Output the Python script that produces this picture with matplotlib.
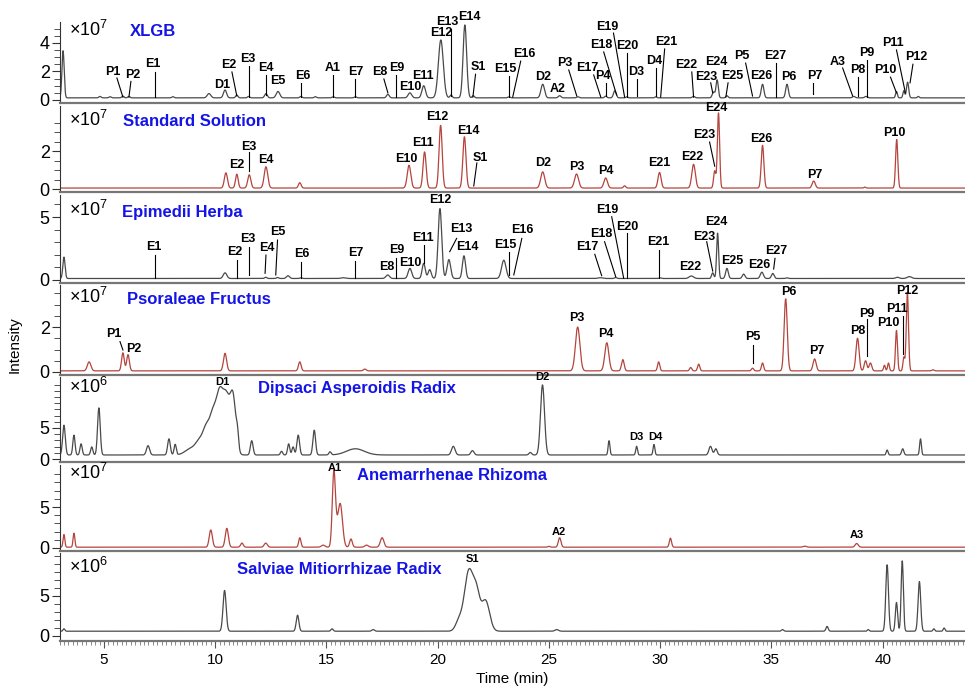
import numpy as np
import matplotlib.pyplot as plt
from matplotlib.ticker import MultipleLocator

plt.rcParams['font.family'] = ['Liberation Sans', 'DejaVu Sans']
plt.rcParams['mathtext.fontset'] = 'custom'
plt.rcParams['mathtext.rm'] = 'Liberation Sans'

# ---------------------------------------------------------------------------
# Peak tables: retention time (min), height, width
# ---------------------------------------------------------------------------
xlgb_rt = [3.16, 4.82, 5.27, 5.85, 6.12, 8.1, 9.72, 10.44, 10.97, 11.5, 12.28, 12.82,
           13.85, 14.5, 15.3, 16.3, 17.76, 18.75, 19.37, 20.14, 20.6, 21.22, 21.6,
           23.2, 24.72, 25.48, 26.3, 27.55, 27.96, 28.5, 29.8, 31.5, 32.4, 32.56,
           33.0, 34.6, 35.7, 38.7, 39.25, 40.62, 40.95, 41.12, 41.6]
xlgb_h = [3.3, 0.1, 0.08, 0.12, 0.1, 0.08, 0.3, 0.55, 0.2, 0.1, 0.3, 0.45,
          0.1, 0.08, 0.08, 0.08, 0.25, 0.35, 0.85, 4.05, 0.2, 5.1, 0.15,
          0.08, 0.95, 0.15, 0.08, 0.12, 0.5, 0.08, 0.08, 0.1, 0.4, 1.25,
          0.15, 0.95, 0.95, 0.1, 0.1, 0.45, 0.5, 1.1, 0.1]
xlgb_w = [0.05, 0.05, 0.05, 0.05, 0.05, 0.05, 0.08, 0.07, 0.05, 0.05, 0.06, 0.08,
          0.05, 0.05, 0.05, 0.05, 0.06, 0.08, 0.08, 0.11, 0.05, 0.08, 0.05,
          0.05, 0.08, 0.06, 0.05, 0.05, 0.06, 0.04, 0.04, 0.06, 0.06, 0.05,
          0.05, 0.06, 0.06, 0.06, 0.06, 0.04, 0.04, 0.05, 0.04]

std_rt = [10.48, 10.97, 11.53, 12.28, 13.8, 18.71, 19.41, 20.13, 21.2, 24.72, 26.24,
          27.55, 28.4, 29.97, 31.5, 32.45, 32.62, 34.6, 36.9, 39.2, 40.63]
std_h = [0.8, 0.73, 0.7, 1.12, 0.28, 1.2, 1.9, 3.3, 2.7, 0.85, 0.74,
         0.53, 0.12, 0.82, 1.25, 0.9, 3.95, 2.25, 0.37, 0.05, 2.55]
std_w = [0.07, 0.06, 0.07, 0.08, 0.06, 0.08, 0.07, 0.07, 0.07, 0.09, 0.09,
         0.08, 0.05, 0.07, 0.08, 0.05, 0.05, 0.06, 0.07, 0.04, 0.05]

epi_rt = [3.2, 10.44, 12.27, 12.8, 13.27, 13.85, 15.75, 17.75, 18.75, 19.37, 19.64,
          20.1, 20.5, 21.18, 22.97, 27.3, 28.0, 30.0, 31.4, 32.36, 32.58, 33.0,
          33.75, 34.57, 35.06, 35.7, 40.66, 41.2]
epi_h = [1.7, 0.45, 0.1, 0.08, 0.22, 0.05, 0.06, 0.28, 0.8, 1.2, 0.7,
         5.55, 1.5, 1.8, 1.45, 0.06, 0.08, 0.05, 0.2, 0.45, 3.6, 0.8,
         0.35, 0.5, 0.4, 0.05, 0.1, 0.15]
epi_w = [0.05, 0.08, 0.05, 0.05, 0.07, 0.05, 0.1, 0.08, 0.08, 0.07, 0.07,
         0.08, 0.08, 0.07, 0.1, 0.1, 0.05, 0.05, 0.1, 0.05, 0.045, 0.06,
         0.06, 0.07, 0.06, 0.05, 0.08, 0.1]

pso_rt = [4.33, 5.85, 6.08, 10.44, 13.8, 16.72, 26.29, 27.6, 28.32, 29.93, 31.37,
          31.73, 34.15, 34.6, 35.64, 36.94, 38.87, 39.23, 39.45, 40.08, 40.26,
          40.62, 40.95, 41.11, 42.26]
pso_h = [0.4, 0.8, 0.72, 0.78, 0.4, 0.08, 1.95, 1.25, 0.5, 0.4, 0.15,
         0.3, 0.12, 0.35, 3.2, 0.53, 1.45, 0.45, 0.35, 0.25, 0.35,
         1.8, 0.6, 3.5, 0.05]
pso_w = [0.08, 0.06, 0.06, 0.07, 0.06, 0.06, 0.1, 0.09, 0.06, 0.05, 0.05,
         0.05, 0.05, 0.05, 0.07, 0.07, 0.07, 0.06, 0.06, 0.04, 0.04,
         0.045, 0.04, 0.05, 0.05]

dip_rt = [3.2, 3.65, 3.97, 4.45, 4.77, 6.98, 7.92, 8.2, 8.9, 9.3, 9.6, 9.9, 10.2,
          10.5, 10.8, 11.0, 11.64, 12.98, 13.3, 13.5, 13.73, 14.45, 15.16, 16.3,
          20.7, 21.56, 24.16, 24.71, 27.7, 28.94, 29.72, 32.26, 32.5, 40.2, 40.9, 41.7]
dip_h = [4.8, 3.2, 1.8, 1.3, 7.6, 1.5, 2.6, 1.7, 1.0, 2.0, 3.8, 6.0, 9.0,
         8.5, 9.0, 2.0, 2.3, 0.6, 1.8, 1.3, 3.2, 4.0, 0.5, 1.0,
         1.4, 0.7, 0.4, 11.3, 2.3, 1.4, 1.7, 1.4, 1.0, 0.8, 1.0, 2.6]
dip_w = [0.06, 0.05, 0.05, 0.05, 0.06, 0.07, 0.06, 0.05, 0.25, 0.18, 0.15, 0.15, 0.15,
         0.15, 0.13, 0.05, 0.06, 0.05, 0.05, 0.05, 0.06, 0.06, 0.05, 0.4,
         0.08, 0.07, 0.06, 0.09, 0.04, 0.04, 0.04, 0.07, 0.06, 0.04, 0.05, 0.04]

ane_rt = [3.2, 3.65, 9.8, 10.52, 11.2, 12.27, 13.8, 14.85, 15.33, 15.45, 15.62,
          16.1, 16.8, 17.5, 25.0, 25.48, 30.46, 36.5, 38.83]
ane_h = [1.55, 1.7, 2.1, 2.3, 0.5, 0.5, 1.15, 0.25, 8.9, 1.2, 5.2,
         1.0, 0.25, 1.15, 0.1, 1.15, 1.1, 0.12, 0.45]
ane_w = [0.04, 0.04, 0.07, 0.07, 0.06, 0.07, 0.05, 0.08, 0.07, 0.08, 0.1,
         0.06, 0.08, 0.08, 0.05, 0.06, 0.05, 0.08, 0.07]

sal_rt = [3.2, 10.42, 13.7, 15.25, 17.1, 20.95, 21.4, 21.75, 22.15, 25.35, 35.5,
          37.5, 39.35, 40.2, 40.62, 40.88, 41.65, 42.3, 42.76]
sal_h = [0.3, 5.1, 2.0, 0.3, 0.2, 1.2, 7.5, 4.0, 3.8, 0.2, 0.2,
         0.6, 0.2, 8.3, 3.6, 8.8, 6.2, 0.3, 0.4]
sal_w = [0.04, 0.07, 0.06, 0.05, 0.06, 0.15, 0.2, 0.15, 0.18, 0.08, 0.05,
         0.05, 0.04, 0.06, 0.05, 0.05, 0.06, 0.04, 0.04]

# peak labels: text, x, y, leader line (x0, y0, x1, y1) or None
xlgb_labels = [
    ("P1", 5.40, 1.96, (5.58, 1.54, 5.85, 0.2)), ("P2", 6.30, 1.75, (6.21, 1.30, 6.12, 0.2)),
    ("E1", 7.20, 2.52, (7.29, 1.96, 7.29, 0.2)), ("D1", 10.30, 1.05, None),
    ("E2", 10.62, 2.45, (10.75, 1.96, 10.97, 0.28)), ("E3", 11.47, 2.87, (11.51, 2.38, 11.51, 0.2)),
    ("E4", 12.28, 2.24, (12.28, 1.75, 12.28, 0.35)), ("E5", 12.82, 1.33, None),
    ("E6", 13.94, 1.68, (13.85, 1.2, 13.85, 0.2)), ("A1", 15.29, 2.24, (15.29, 1.75, 15.29, 0.2)),
    ("E7", 16.32, 1.96, (16.28, 1.47, 16.28, 0.2)), ("E8", 17.40, 1.96, (17.58, 1.47, 17.76, 0.5)),
    ("E9", 18.16, 2.24, (18.12, 1.75, 18.12, 0.2)), ("E10", 18.79, 0.90, None),
    ("E11", 19.33, 1.68, None), ("E12", 20.18, 4.70, None),
    ("E13", 20.45, 5.45, (20.59, 5.0, 20.59, 0.3)), ("E14", 21.44, 5.80, None),
    ("S1", 21.84, 2.30, (21.70, 1.8, 21.58, 0.2)), ("E15", 23.06, 2.17, (23.19, 1.7, 23.19, 0.2)),
    ("E16", 23.87, 3.20, (23.73, 2.72, 23.37, 0.2)), ("D2", 24.72, 1.60, None),
    ("A2", 25.40, 0.77, None), ("P3", 25.71, 2.58, (25.89, 2.1, 26.25, 0.28)),
    ("E17", 26.70, 2.24, (27.01, 1.75, 27.33, 0.2)), ("P4", 27.42, 1.68, (27.55, 1.2, 27.55, 0.25)),
    ("E18", 27.33, 3.85, (27.46, 3.36, 28.04, 0.35)), ("E19", 27.64, 5.10, (27.90, 4.68, 28.40, 0.2)),
    ("E20", 28.54, 3.78, (28.50, 3.3, 28.50, 0.2)), ("D3", 28.94, 1.96, (28.94, 1.47, 28.94, 0.25)),
    ("D4", 29.75, 2.72, (29.80, 2.24, 29.80, 0.25)), ("E21", 30.29, 4.06, (30.20, 3.57, 30.02, 0.2)),
    ("E22", 31.19, 2.45, (31.42, 1.96, 31.50, 0.2)), ("E23", 32.09, 1.60, (32.27, 1.2, 32.36, 0.5)),
    ("E24", 32.54, 2.65, None), ("E25", 33.26, 1.68, (33.05, 1.2, 32.95, 0.2)),
    ("P5", 33.66, 3.07, (33.84, 2.58, 34.15, 0.28)), ("E26", 34.56, 1.68, None),
    ("E27", 35.15, 3.07, (35.20, 2.58, 35.20, 0.2)), ("P6", 35.77, 1.60, None),
    ("P7", 36.94, 1.68, (36.85, 1.2, 36.85, 0.45)), ("A3", 37.97, 2.65, (38.20, 2.24, 38.65, 0.28)),
    ("P8", 38.87, 2.10, (38.87, 1.6, 38.87, 0.3)), ("P9", 39.28, 3.30, (39.28, 2.8, 39.28, 0.2)),
    ("P10", 40.13, 2.10, (40.35, 1.6, 40.62, 0.5)), ("P11", 40.44, 4.00, (40.62, 3.5, 41.02, 0.5)),
    ("P12", 41.52, 3.00, (41.36, 2.5, 41.23, 1.2)),
]
std_labels = [
    ("E2", 10.97, 1.25, None), ("E3", 11.53, 2.2, (11.53, 1.93, 11.53, 0.95)),
    ("E4", 12.28, 1.55, None), ("E10", 18.58, 1.6, None), ("E11", 19.33, 2.4, None),
    ("E12", 19.96, 3.77, None), ("E14", 21.39, 3.07, None),
    ("S1", 21.9, 1.65, (21.76, 1.37, 21.62, 0.16)), ("D2", 24.72, 1.38, None),
    ("P3", 26.25, 1.17, None), ("P4", 27.55, 0.96, None), ("E21", 29.97, 1.35, None),
    ("E22", 31.42, 1.67, None), ("E23", 32.0, 2.84, (32.22, 2.47, 32.45, 1.2)),
    ("E24", 32.54, 4.26, None), ("E26", 34.56, 2.62, None), ("P7", 36.94, 0.74, None),
    ("P10", 40.53, 2.96, None),
]
epi_labels = [
    ("E1", 7.25, 2.64, (7.29, 1.98, 7.29, 0.13)), ("E2", 10.88, 2.25, (10.97, 1.59, 10.97, 0.13)),
    ("E3", 11.47, 3.23, (11.51, 2.64, 11.51, 0.4)), ("E4", 12.32, 2.57, (12.28, 1.98, 12.24, 0.53)),
    ("E5", 12.82, 3.84, (12.80, 3.17, 12.72, 0.4)), ("E6", 13.90, 2.04, (13.85, 1.45, 13.85, 0.16)),
    ("E7", 16.32, 2.12, (16.28, 1.5, 16.28, 0.16)), ("E8", 17.70, 1.06, None),
    ("E9", 18.16, 2.38, (18.12, 1.75, 18.12, 0.16)), ("E10", 18.79, 1.37, None),
    ("E11", 19.33, 3.30, (19.37, 2.78, 19.37, 1.32)), ("E12", 20.10, 6.35, None),
    ("E13", 21.07, 4.02, (20.85, 3.3, 20.54, 2.25)), ("E14", 21.35, 2.64, None),
    ("E15", 23.06, 2.78, (23.19, 2.25, 23.19, 0.4)), ("E16", 23.82, 3.97, (23.78, 3.3, 23.42, 0.4)),
    ("E17", 26.74, 2.64, (27.06, 2.04, 27.37, 0.34)), ("E18", 27.37, 3.63, (27.50, 3.04, 28.00, 0.26)),
    ("E19", 27.64, 5.56, (27.82, 5.02, 28.36, 0.13)), ("E20", 28.54, 4.23, (28.50, 3.7, 28.50, 0.13)),
    ("E21", 29.89, 3.04, (29.93, 2.38, 29.93, 0.13)), ("E22", 31.37, 1.06, None),
    ("E23", 32.00, 3.44, (32.09, 3.04, 32.36, 0.71)), ("E24", 32.54, 4.58, None),
    ("E25", 33.26, 1.50, None), ("E26", 34.43, 1.19, None),
    ("E27", 35.20, 2.30, (35.16, 1.72, 35.10, 0.87)),
]
pso_labels = [
    ("P1", 5.45, 1.68, (5.72, 1.35, 5.85, 0.98)), ("P2", 6.32, 1.0, None),
    ("P3", 26.25, 2.39, None), ("P4", 27.55, 1.69, None),
    ("P5", 34.15, 1.57, (34.15, 1.2, 34.15, 0.38)), ("P6", 35.77, 3.54, None),
    ("P7", 37.03, 0.95, None), ("P8", 38.87, 1.84, None),
    ("P9", 39.28, 2.58, (39.28, 2.34, 39.28, 0.71)), ("P10", 40.26, 2.16, None),
    ("P11", 40.62, 2.79, (40.90, 2.49, 40.90, 0.8)), ("P12", 41.11, 3.62, None),
]
dip_labels = [("D1", 10.3, 12.4, None), ("D2", 24.72, 13.2, None),
              ("D3", 28.94, 3.6, None), ("D4", 29.8, 3.6, None)]
ane_labels = [("A1", 15.37, 9.7, None), ("A2", 25.43, 2.0, None), ("A3", 38.83, 1.6, None)]
sal_labels = [("S1", 21.56, 9.6, None)]

GRAY = '#4a4a4a'
RED = '#b5443c'
# name, peaks, baseline, colour, exponent, labels, label size, title x
panels = [
    ("XLGB", (xlgb_rt, xlgb_h, xlgb_w), 0.15, GRAY, 7, xlgb_labels, 9, 0.078),
    ("Standard Solution", (std_rt, std_h, std_w), 0.05, RED, 7, std_labels, 9, 0.070),
    ("Epimedii Herba", (epi_rt, epi_h, epi_w), 0.12, GRAY, 7, epi_labels, 9, 0.069),
    ("Psoraleae Fructus", (pso_rt, pso_h, pso_w), 0.05, RED, 7, pso_labels, 9, 0.074),
    ("Dipsaci Asperoidis Radix", (dip_rt, dip_h, dip_w), 0.65, GRAY, 6, dip_labels, 8, 0.219),
    ("Anemarrhenae Rhizoma", (ane_rt, ane_h, ane_w), 0.1, RED, 7, ane_labels, 8, 0.329),
    ("Salviae Mitiorrhizae Radix", (sal_rt, sal_h, sal_w), 0.6, GRAY, 6, sal_labels, 8, 0.196),
]

# layout in pixels: zero line, px per unit, bottom, top, major step, minor step, exponent-label y
frames = [
    (100, 14.3, 103, 22, 2, 0.5, 30),
    (189, 19.0, 192, 106, 2, 0.5, 120),
    (280, 12.6, 283, 195, 5, 1, 210),
    (372, 22.5, 375, 285, 2, 0.5, 297),
    (459, 6.2, 462, 377, 5, 1, 387),
    (548, 8.2, 551, 465, 5, 1, 473),
    (636, 8.0, 641, 553, 5, 1, 567),
]
major_tops = [4, 2, 5, 2, 5, 5, 5]
minor_tops = [5, 3.5, 6, 3.5, 12, 9, 10]

W, H = 965, 691
fig = plt.figure(figsize=(W / 100, H / 100), dpi=100)
t = np.linspace(3.0, 43.7, 5000)
x_left = 59.5

for i, ((name, (rt, h, w), base, col, expo, labels, lsize, title_x),
        (y0, s, yb, yt, major, minor, ey)) in enumerate(zip(panels, frames)):
    ax = fig.add_axes([x_left / W, 1 - yb / H, 1 - x_left / W, (yb - yt) / H])
    trace = np.full_like(t, base)
    for r, hh, ww in zip(rt, h, w):
        trace += hh * np.exp(-0.5 * ((t - r) / ww) ** 2)
    ax.plot(t, trace, color=col, lw=0.9)
    ax.set_xlim(3.0, 43.7)
    ax.set_ylim((y0 - yb) / s, (y0 - yt) / s)
    ax.patch.set_alpha(0)

    for sp in ['top', 'right']:
        ax.spines[sp].set_visible(False)
    ax.spines['left'].set_color('#333333')
    ax.spines['bottom'].set_color('#777777')
    ax.spines['bottom'].set_linewidth(1.6)

    ax.set_yticks(np.arange(0, major_tops[i] + 0.01, major))
    ax.set_yticks(np.arange(0, minor_tops[i] + 0.01, minor), minor=True)
    ax.tick_params(axis='y', which='major', length=6, width=0.8, labelsize=13,
                   pad=1, color='#333333')
    ax.tick_params(axis='y', which='minor', length=4, width=0.6, color='#333333')

    if i < len(panels) - 1:
        ax.tick_params(axis='x', which='both', bottom=False, labelbottom=False)
    else:
        ax.xaxis.set_major_locator(MultipleLocator(5))
        ax.xaxis.set_minor_locator(MultipleLocator(0.2))
        ax.tick_params(axis='x', which='major', length=5, labelsize=11, color='#555555')
        ax.tick_params(axis='x', which='minor', length=3, color='#777777')
        ax.set_xlabel('Time (min)', fontsize=11, labelpad=4)

    ax.text(0.01, (y0 - ey) / s, r'$\times10^{%d}$' % expo, transform=ax.get_yaxis_transform(),
            fontsize=13, va='center', ha='left')
    ax.text(title_x, 1 - (ey + 2 - yt) / (yb - yt), name, transform=ax.transAxes,
            color='#1414e6', fontsize=12, fontweight='bold', va='center', ha='left')

    for lab, tx, ty, line in labels:
        ax.text(tx, ty, lab, fontsize=lsize, fontweight='bold', ha='center', va='center',
                clip_on=False)
        if line is not None:
            ax.plot([line[0], line[2]], [line[1], line[3]], color='black', lw=0.8,
                    clip_on=False)

fig.text(15 / W, 1 - 345 / H, 'Intensity', rotation=90, fontsize=11, ha='center', va='center')
fig.savefig('out.png', dpi=100)
